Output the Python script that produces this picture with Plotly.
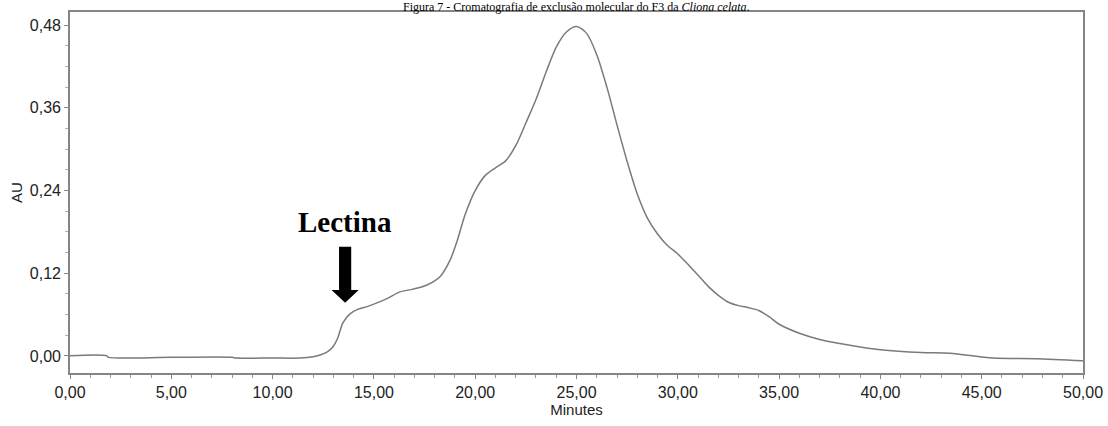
import plotly.graph_objects as go

# Chromatogram trace (minutes, AU)
minutes = [0, 1.8, 1.9, 5, 8, 8.2, 10, 11.35, 12.0, 12.34, 12.7, 12.98, 13.2, 13.47,
           13.82, 14.22, 14.7, 15.15, 15.7, 16.29, 16.93, 17.62, 18.26, 18.76, 19.1,
           19.5, 20.0, 20.5, 21.0, 21.5, 22.0, 22.5, 23.0, 23.5, 24.0, 24.5, 25.0,
           25.5, 26.0, 26.5, 27.0, 27.5, 28.0, 28.5, 29.0, 29.5, 30.0, 30.5, 31.0,
           31.5, 32.0, 32.5, 33.0, 33.5, 34.0, 34.5, 35.0, 36.0, 37.0, 38.0, 39.0,
           40.0, 42.0, 43.43, 45.56, 47.7, 50.0]
au = [0.0005, 0.0005, -0.002, -0.002, -0.002, -0.003, -0.003, -0.003, -0.001, 0.0015,
      0.006, 0.0135, 0.025, 0.048, 0.061, 0.068, 0.072, 0.077, 0.084, 0.093, 0.097,
      0.103, 0.115, 0.139, 0.166, 0.205, 0.240, 0.262, 0.273, 0.283, 0.305, 0.338,
      0.372, 0.412, 0.448, 0.470, 0.478, 0.468, 0.437, 0.390, 0.335, 0.282, 0.235,
      0.200, 0.177, 0.160, 0.148, 0.133, 0.117, 0.101, 0.088, 0.078, 0.073, 0.070,
      0.066, 0.057, 0.046, 0.033, 0.024, 0.018, 0.013, 0.009, 0.005, 0.004, -0.003,
      -0.004, -0.007]

x_ticks = [0, 5, 10, 15, 20, 25, 30, 35, 40, 45, 50]
y_ticks = [0.0, 0.12, 0.24, 0.36, 0.48]

title_text = "Figura 7 - Cromatografia de exclusão molecular do F3 da <i>Cliona celata</i>."
label_text = "Lectina"
label_pos = (13.58, 0.195)
arrow_x = 13.58
arrow_top, arrow_neck, arrow_tip = 0.1585, 0.0957, 0.0773
shaft_half, head_half = 0.30, 0.67

fig = go.Figure()
fig.add_trace(go.Scatter(x=minutes, y=au, mode="lines",
                         line=dict(color="#7a7a7a", width=1.5, shape="spline", smoothing=0.8),
                         showlegend=False, hoverinfo="skip"))

axis_common = dict(showgrid=False, zeroline=False, showline=True, linecolor="#858585",
                   linewidth=1.6, mirror=True, ticks="outside", ticklen=4, automargin=False,
                   tickcolor="#858585", tickfont=dict(family="Liberation Sans", size=16, color="#222222"))

fig.update_xaxes(range=[0, 50], tickvals=x_ticks, tickformat=".2f",
                 title=dict(text="Minutes", font=dict(family="Liberation Sans", size=15, color="#222222"), standoff=2),
                 minor=dict(dtick=1, ticks="outside", ticklen=3, tickcolor="#9a9a9a"),
                 **axis_common)
fig.update_yaxes(range=[-0.0247, 0.499], tickvals=y_ticks, tickformat=".2f",
                 title=dict(text="AU", font=dict(family="Liberation Sans", size=15, color="#222222"), standoff=4),
                 minor=dict(dtick=0.03, tick0=0, ticks="outside", ticklen=3, tickcolor="#b0b0b0"),
                 **axis_common)

# arrow drawn as a filled path in data coordinates
path = (f"M {arrow_x - shaft_half} {arrow_top} L {arrow_x + shaft_half} {arrow_top} "
        f"L {arrow_x + shaft_half} {arrow_neck} L {arrow_x + head_half} {arrow_neck} "
        f"L {arrow_x} {arrow_tip} L {arrow_x - head_half} {arrow_neck} "
        f"L {arrow_x - shaft_half} {arrow_neck} Z")
fig.add_shape(type="path", path=path, xref="x", yref="y", fillcolor="black",
              line=dict(color="black", width=0))

fig.add_annotation(x=label_pos[0], y=label_pos[1], xref="x", yref="y", text="<b>" + label_text + "</b>",
                   showarrow=False, yanchor="middle",
                   font=dict(family="Liberation Serif", size=29, color="black"))

fig.add_annotation(x=0.5, y=1 + 13 / 361, xref="paper", yref="paper", xanchor="center", yanchor="top",
                   text=title_text, showarrow=False, borderpad=0,
                   font=dict(family="Liberation Serif", size=12, color="black"))

fig.update_layout(width=1108, height=426, margin=dict(l=70, r=25, t=12, b=53),
                  plot_bgcolor="white", paper_bgcolor="white", separators=",.")

fig.write_html("out.html", config={"displayModeBar": False},
               post_script="document.body.style.margin='0';")
